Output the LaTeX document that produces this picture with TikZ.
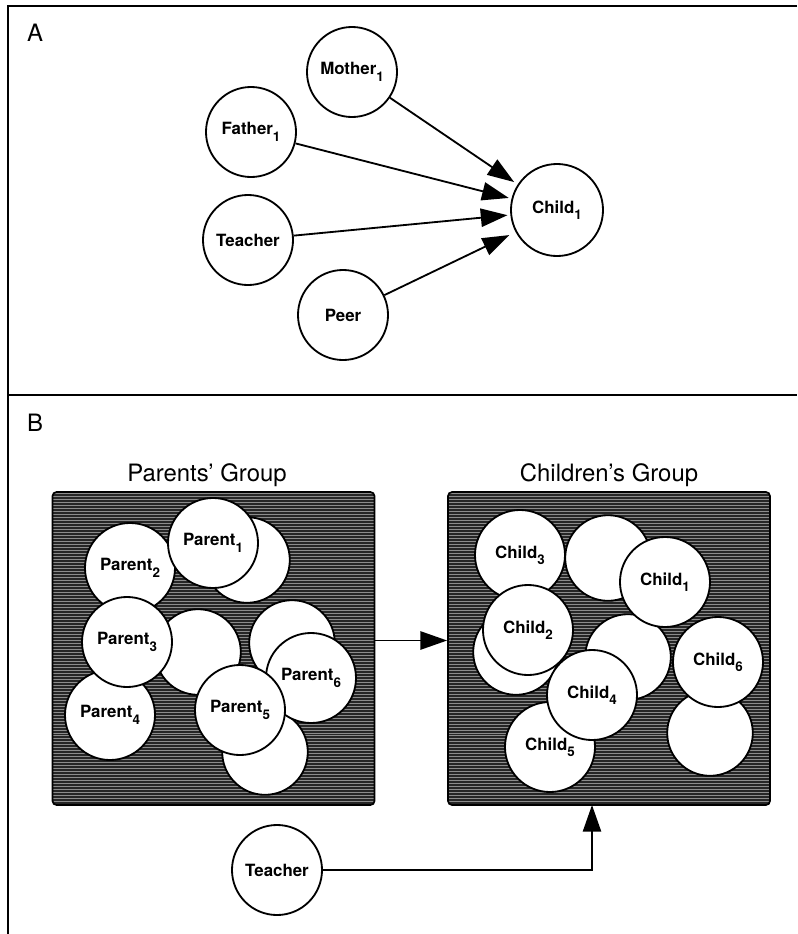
\documentclass[tikz,border=0pt]{standalone}
\usepackage{fontspec}
\setmainfont{TeX Gyre Heros}
\usetikzlibrary{arrows.meta}

\newcommand{\lowsub}[1]{\raisebox{-0.7ex}{\fontsize{9.5}{11}\selectfont #1}}

\tikzset{
    person/.style = {circle, draw, fill=white, line width=1.3pt, minimum size=2.25cm,
        inner sep=0pt, font=\fontsize{12}{14}\selectfont\bfseries},
    filler/.style = {person, minimum size=2.14cm},
    groupbox/.style = {draw, rounded corners=3pt, line width=1.2pt, fill=black!85,
        minimum width=8.05cm, minimum height=7.825cm,
        path picture={
            \foreach \k in {0,...,112}{
                \draw[black!45, line width=0.7pt]
                    ([yshift=-\k*2.13pt-1pt]path picture bounding box.north west) --
                    ([yshift=-\k*2.13pt-1pt]path picture bounding box.north east);
            }
        }},
    influence/.style = {-{Triangle[length=19pt,width=13pt]}, line width=1.3pt},
    panel/.style = {font=\fontsize{17}{20}\selectfont}
}

\begin{document}
\begin{tikzpicture}[x=0.025cm, y=-0.025cm]
    \useasboundingbox (0,0) rectangle (797,934);
    \draw[line width=0.8pt] (797,6) -- (8,6) -- (8,934);
    \draw[line width=0.8pt] (8,395) -- (797,395);

    % A
    \node[panel] (labelA) at (35,33) {A};
    \node[person] (mother) at (352,72) {Mother\lowsub{1}};
    \node[person] (father) at (251,132) {Father\lowsub{1}};
    \node[person] (teacherA) at (248,240) {Teacher};
    \node[person] (peer) at (343,315) {Peer};
    \node[person, minimum size=2.3cm] (child) at (557,210) {Child\lowsub{1}};

    \draw[influence, shorten >=3pt] (mother) -- (child.147);
    \draw[influence, shorten >=2pt] (father) -- (child.166);
    \draw[influence, shorten >=2pt] (teacherA) -- (child.186);
    \draw[influence, shorten >=5pt] (peer) -- (child.208);

    % B
    \node[panel] (labelB) at (35,423) {B};
    \node[panel] (parentsTitle) at (207,475) {Parents' Group};
    \node[panel] (childrenTitle) at (609,475) {Children's Group};
    \node[groupbox] (parents) at (213.5,648.5) {};
    \node[groupbox] (children) at (609,648.5) {};

    \node[filler] (pblankA) at (247,560) {};
    \node[filler] (pblankB) at (198,652) {};
    \node[filler] (pblankC) at (292,643) {};
    \node[filler] (pblankD) at (265,752) {};
    \node[person] (parent2) at (130,568) {Parent\lowsub{2}};
    \node[person] (parent1) at (213,543) {Parent\lowsub{1}};
    \node[person] (parent4) at (110,715) {Parent\lowsub{4}};
    \node[person] (parent3) at (127,642) {Parent\lowsub{3}};
    \node[person] (parent6) at (311,678) {Parent\lowsub{6}};
    \node[person] (parent5) at (240,710) {Parent\lowsub{5}};

    \node[filler] (cblankA) at (608,558) {};
    \node[filler] (cblankB) at (516,652) {};
    \node[filler] (cblankC) at (628,657) {};
    \node[filler] (cblankD) at (710,733) {};
    \node[person] (child3) at (520,555) {Child\lowsub{3}};
    \node[person] (child1) at (665,582) {Child\lowsub{1}};
    \node[person] (child2) at (528,630) {Child\lowsub{2}};
    \node[person] (child5) at (550,747) {Child\lowsub{5}};
    \node[person] (child4) at (592,695) {Child\lowsub{4}};
    \node[person] (child6) at (718,662) {Child\lowsub{6}};

    \draw[influence] ([yshift=0.2cm]parents.east) -- ([yshift=0.2cm]children.west);

    \node[person] (teacherB) at (277,870) {Teacher};
    \coordinate (entry) at (592,805);
    \draw[influence] (teacherB) -| (entry);
\end{tikzpicture}
\end{document}
